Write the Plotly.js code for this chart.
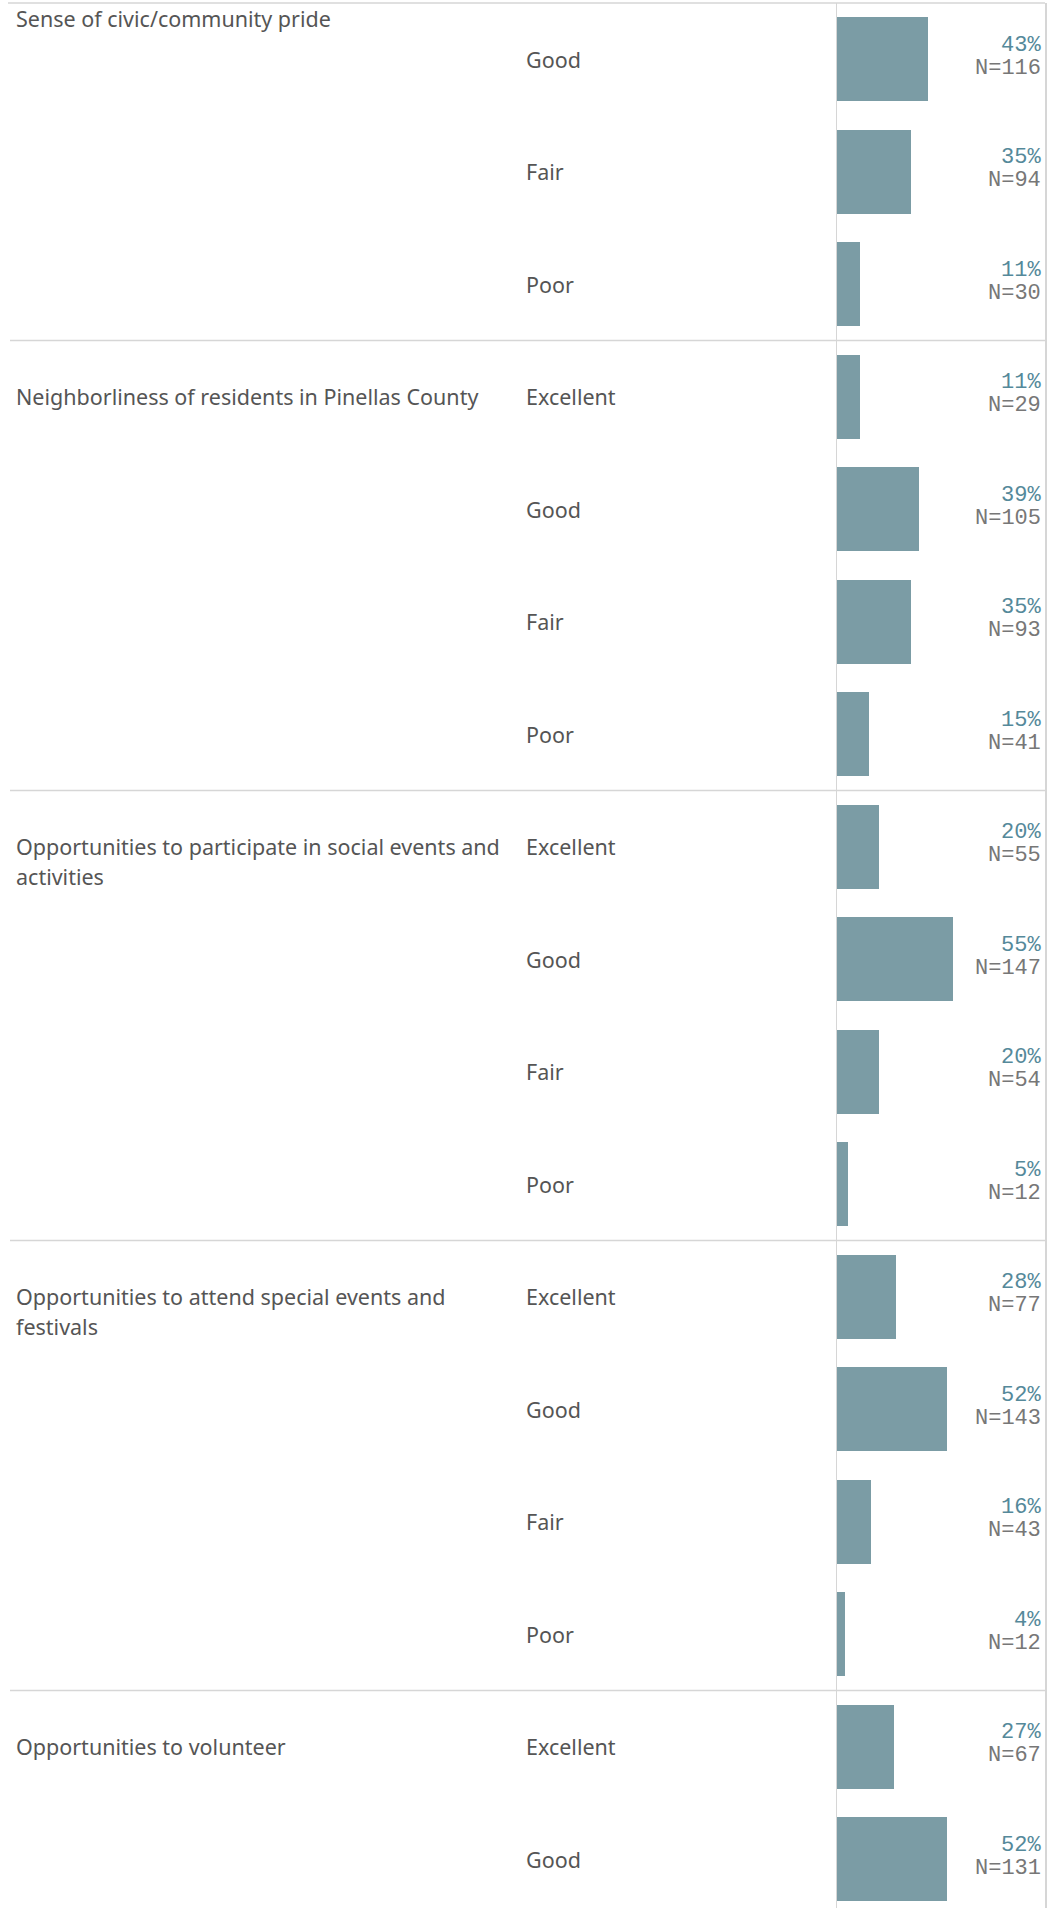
<!DOCTYPE html>
<html>
<head>
<meta charset="utf-8">
<script src="https://cdn.plot.ly/plotly-3.0.1.min.js"></script>
<style>
  html, body { margin: 0; padding: 0; background: #ffffff; }
  #chart { width: 1053px; height: 1908px; }
</style>
</head>
<body>
<div id="chart"></div>
<script>
// ---- Data ----
const groupLabels = [
  ["Sense of civic/community pride"],
  ["Neighborliness of residents in Pinellas County"],
  ["Opportunities to participate in social events and", "activities"],
  ["Opportunities to attend special events and", "festivals"],
  ["Opportunities to volunteer"]
];
const rowGroup  = [0, 0, 0, 1, 1, 1, 1, 2, 2, 2, 2, 3, 3, 3, 3, 4, 4];
const rowRating = ["Good", "Fair", "Poor",
                   "Excellent", "Good", "Fair", "Poor",
                   "Excellent", "Good", "Fair", "Poor",
                   "Excellent", "Good", "Fair", "Poor",
                   "Excellent", "Good"];
const rowPct    = [43, 35, 11, 11, 39, 35, 15, 20, 55, 20, 5, 28, 52, 16, 4, 27, 52];
const rowN      = [116, 94, 30, 29, 105, 93, 41, 55, 147, 54, 12, 77, 143, 43, 12, 67, 131];

// ---- Layout geometry ----
const W = 1053, H = 1908;
const marginL = 837, marginR = 8, marginT = 3, marginB = 0;
const plotW = W - marginL - marginR;
const rowPx = 112.5;
const nVisibleRows = (H - marginT - marginB) / rowPx;
const px2paper = px => (px - marginL) / plotW;

const rowIdx = rowPct.map((_, i) => i);

const barColor = "#7b9ca5";
const pctColor = "#55899a";
const nColor = "#777777";
const labelColor = "#555555";
const lineColor = "#d6d6d6";
const sansFont = "Noto Sans, Open Sans, sans-serif";
const monoFont = "Liberation Mono, DejaVu Sans Mono, monospace";
const labelSize = 21.5;
const monoSize = 22;

const traces = [{
  type: "bar",
  orientation: "h",
  x: rowPct,
  y: rowIdx,
  width: 0.75,
  marker: { color: barColor },
  hoverinfo: "skip"
}];

const annotations = [];
const shapes = [];

// rating labels + value labels
rowIdx.forEach(i => {
  annotations.push({
    xref: "paper", yref: "y", x: px2paper(524), y: i,
    xanchor: "left", yanchor: "middle", showarrow: false,
    text: rowRating[i],
    font: { family: sansFont, size: labelSize, color: labelColor }
  });
  annotations.push({
    xref: "paper", yref: "y", x: px2paper(1043), y: i, yshift: 14,
    xanchor: "right", yanchor: "middle", showarrow: false,
    text: rowPct[i] + "%",
    font: { family: monoFont, size: monoSize, color: pctColor }
  });
  annotations.push({
    xref: "paper", yref: "y", x: px2paper(1043), y: i, yshift: -9,
    xanchor: "right", yanchor: "middle", showarrow: false,
    text: "N=" + rowN[i],
    font: { family: monoFont, size: monoSize, color: nColor }
  });
});

// group labels
groupLabels.forEach((lines, g) => {
  const first = rowGroup.indexOf(g);
  lines.forEach((line, k) => {
    const a = {
      xref: "paper", x: px2paper(14),
      xanchor: "left", yanchor: "middle", showarrow: false,
      text: line,
      font: { family: sansFont, size: labelSize, color: labelColor }
    };
    if (g === 0) {
      // header scrolled to the top of the visible pane
      a.yref = "paper"; a.y = 1; a.yshift = -15 - 30 * k;
    } else {
      a.yref = "y"; a.y = first; a.yshift = -30 * k;
    }
    annotations.push(a);
  });
  // separator below each group (except last)
  const lastRow = rowGroup.lastIndexOf(g);
  if (g < groupLabels.length - 1) {
    shapes.push({
      type: "line", xref: "paper", yref: "y",
      x0: px2paper(10), x1: 1, y0: lastRow + 0.5, y1: lastRow + 0.5,
      line: { color: lineColor, width: 1.5 }
    });
  }
});

// top border
shapes.push({
  type: "line", xref: "paper", yref: "paper",
  x0: px2paper(8), x1: 1, y0: 1, y1: 1,
  line: { color: lineColor, width: 1.5 }
});

const layout = {
  width: W, height: H,
  margin: { l: marginL, r: marginR, t: marginT, b: marginB, pad: 0 },
  paper_bgcolor: "#ffffff",
  plot_bgcolor: "#ffffff",
  showlegend: false,
  bargap: 0,
  xaxis: {
    range: [0, 98.5],
    showgrid: false, zeroline: false, showticklabels: false, ticks: "",
    fixedrange: true
  },
  yaxis: {
    range: [-0.5 + nVisibleRows, -0.5],
    showgrid: false, zeroline: false, showticklabels: false, ticks: "",
    showline: true, mirror: true, linecolor: lineColor, linewidth: 1.5,
    fixedrange: true
  },
  annotations: annotations,
  shapes: shapes
};

Plotly.newPlot("chart", traces, layout, { displayModeBar: false, staticPlot: true });
</script>
</body>
</html>
